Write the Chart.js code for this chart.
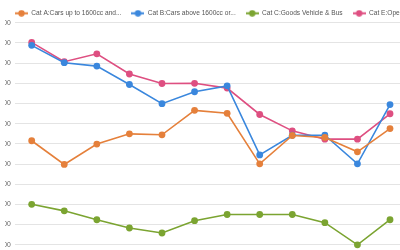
<!DOCTYPE html>
<html>
<head>
<meta charset="utf-8">
<script src="https://cdn.jsdelivr.net/npm/chart.js@4/dist/chart.umd.min.js"></script>
<style>
  html, body { margin: 0; padding: 0; width: 400px; height: 250px; overflow: hidden; background: #fff; }
  canvas { display: block; }
</style>
</head>
<body>
<canvas id="c" width="440" height="269" style="width:440px;height:269px"></canvas>
<script>
const categories = ["Jan 1", "Jan 2", "Feb 1", "Feb 2", "Mar 1", "Mar 2", "Apr 1", "Apr 2", "May 1", "May 2", "Jun 1", "Jun 2"];
const seriesNames = ["Cat A:Cars up to 1600cc and...", "Cat B:Cars above 1600cc or...", "Cat C:Goods Vehicle & Bus", "Cat E:Open"];
const catA = [45770, 39900, 44940, 47480, 47240, 53300, 52570, 40050, 47070, 46580, 43030, 48780];
const catB = [69390, 65090, 64250, 59700, 54960, 57900, 59360, 42250, 47140, 47140, 40050, 54720];
const catC = [30030, 28410, 26210, 24160, 22930, 25970, 27510, 27510, 27510, 25480, 20000, 26210];
const catE = [70120, 65330, 67290, 62300, 59950, 60000, 58800, 52270, 48220, 46160, 46160, 52450];
const yMin = 15000, yMax = 75000, yStep = 5000;

const colors = ["#e5803b", "#3a87dd", "#7ba431", "#de4f81"];
const FONT = "Arial, 'Liberation Sans', sans-serif";

function legendMarker(color) {
  const c = document.createElement('canvas');
  c.width = 13; c.height = 7;
  const g = c.getContext('2d');
  g.strokeStyle = color; g.lineWidth = 2;
  g.beginPath(); g.moveTo(0, 3.5); g.lineTo(13, 3.5); g.stroke();
  g.fillStyle = color;
  g.beginPath(); g.arc(6.5, 3.5, 3.2, 0, Math.PI * 2); g.fill();
  return c;
}
const markers = colors.map(legendMarker);

const values = [catA, catB, catC, catE];
const datasets = values.map((v, i) => ({
  label: seriesNames[i],
  data: v,
  yAxisID: 'y',
  borderColor: colors[i],
  backgroundColor: colors[i],
  borderWidth: 1.6,
  pointRadius: 3.4,
  pointBorderWidth: 0,
  pointBackgroundColor: colors[i],
  tension: 0
}));

new Chart(document.getElementById('c'), {
  type: 'line',
  data: { labels: categories, datasets },
  options: {
    responsive: false,
    animation: false,
    devicePixelRatio: 1,
    layout: { padding: { left: 5, right: 0, top: 0, bottom: 0.85 } },
    plugins: {
      tooltip: { enabled: false },
      legend: {
        position: 'top',
        align: 'start',
        maxHeight: 22.7,
        labels: {
          usePointStyle: true,
          pointStyleWidth: 13,
          padding: 10,
          color: '#555',
          font: { family: FONT, size: 6.6 },
          generateLabels: (chart) => {
            const items = Chart.defaults.plugins.legend.labels.generateLabels(chart);
            items.forEach((it, i) => { it.pointStyle = markers[i]; });
            return items;
          }
        }
      }
    },
    scales: {
      x: {
        type: 'category',
        offset: true,
        display: false
      },
      y: {
        position: 'left',
        min: yMin,
        max: yMax,
        afterFit: (s) => { s.width = 10.4; s.paddingTop = 0; s.paddingBottom = 0; },
        border: { display: false },
        grid: { color: '#e4e4e4', lineWidth: 1, drawTicks: false },
        ticks: {
          stepSize: yStep,
          padding: 4.5,
          color: '#666',
          font: { family: FONT, size: 6.8 },
          callback: (v) => v.toLocaleString('en-US')
        }
      },
      yRight: {
        position: 'right',
        min: yMin,
        max: yMax,
        afterFit: (s) => { s.width = 33.7; s.paddingTop = 0; s.paddingBottom = 0; },
        border: { display: false },
        grid: { display: false },
        ticks: { display: false }
      }
    }
  }
});
</script>
</body>
</html>
